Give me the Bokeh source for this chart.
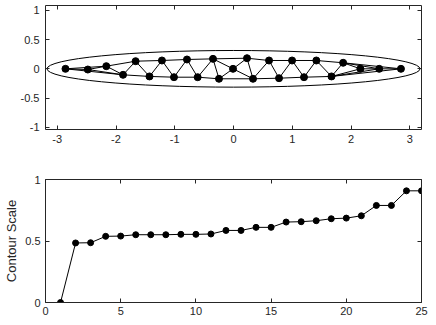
from bokeh.plotting import figure
from bokeh.layouts import column
from bokeh.models import LinearAxis, FixedTicker, Range1d, ColumnDataSource
from bokeh.embed import file_html
from bokeh.resources import INLINE

# ---- data ----
node_x = [-2.86, -2.48, -2.165, -1.88, -1.666, -1.43, -1.218, -1.013, -0.792, -0.61,
          -0.349, -0.247, -0.008, 0.23, 0.332, 0.605, 0.775, 0.997, 1.2, 1.41,
          1.668, 1.866, 2.16, 2.48, 2.85]
node_y = [0.0, -0.012, 0.045, -0.102, 0.13, -0.13, 0.142, -0.143, 0.159, -0.143,
          0.17, -0.17, 0.0, 0.181, -0.17, 0.142, -0.16, 0.142, -0.143, 0.142,
          -0.13, 0.103, 0.0, 0.0, 0.0]
edges = [(1, 3), (3, 5), (5, 7), (7, 9), (9, 11), (11, 14), (14, 16), (16, 18), (18, 20), (20, 22), (22, 25),
         (1, 4), (4, 6), (6, 8), (8, 10), (10, 12), (12, 15), (15, 17), (17, 19), (19, 21), (21, 25),
         (3, 4), (4, 5), (5, 6), (6, 7), (7, 8), (8, 9), (9, 10), (10, 11), (11, 12), (11, 13), (12, 13),
         (13, 14), (13, 15), (14, 15), (15, 16), (16, 17), (17, 18), (18, 19), (19, 20), (20, 21), (21, 22),
         (1, 2), (2, 3), (2, 4),
         (22, 23), (21, 23), (23, 24), (22, 24), (21, 24), (24, 25)]
ellipse_center = (0.0, 0.0)
ellipse_width = 6.35
ellipse_height = 0.625

node_index = list(range(1, 26))
contour_scale = [0, 0.484, 0.486, 0.538, 0.54, 0.551, 0.551, 0.551, 0.554, 0.554, 0.557,
                 0.586, 0.586, 0.611, 0.611, 0.654, 0.657, 0.665, 0.681, 0.686, 0.705,
                 0.789, 0.789, 0.908, 0.908]

top_xticks = [-3, -2, -1, 0, 1, 2, 3]
top_yticks = [-1, -0.5, 0, 0.5, 1]
top_ylabels = {-1: "-1", -0.5: "-0.5", 0: "0", 0.5: "0.5", 1: "1"}
bot_xticks = [0, 5, 10, 15, 20, 25]
bot_yticks = [0, 0.5, 1]
bot_ylabels = {0: "0", 0.5: "0.5", 1: "1"}

AX = "#262626"
FONT = "Liberation Sans"
FS = "11px"


def style_axis(ax, ticks, labels=None, show=True):
    ax.ticker = FixedTicker(ticks=ticks)
    ax.axis_line_color = AX
    ax.major_tick_line_color = AX
    ax.major_tick_in = 4
    ax.major_tick_out = 0
    ax.minor_tick_line_color = None
    ax.major_label_text_font = FONT
    ax.major_label_text_font_size = FS
    ax.major_label_text_color = AX
    if labels:
        ax.major_label_overrides = labels
    if not show:
        ax.major_label_text_font_size = "1px"
        ax.major_label_text_color = None
        ax.major_label_standoff = 0
        ax.axis_label_standoff = 0


# ---- top plot ----
p1 = figure(width=436, height=155, output_backend="svg", toolbar_location=None,
            x_range=Range1d(-3.2, 3.2), y_range=Range1d(-1.035, 1.08),
            min_border_left=45, min_border_right=15, min_border_top=5, min_border_bottom=26)
p1.grid.visible = False
p1.outline_line_color = None
style_axis(p1.xaxis[0], top_xticks, {t: str(t) for t in top_xticks})
style_axis(p1.yaxis[0], top_yticks, top_ylabels)
p1.xaxis[0].major_label_standoff = 5
p1.yaxis[0].major_label_standoff = 6
ra = LinearAxis()
style_axis(ra, top_yticks, show=False)
p1.add_layout(ra, "right")
ta = LinearAxis()
style_axis(ta, top_xticks, show=False)
p1.add_layout(ta, "above")

p1.ellipse(x=[ellipse_center[0]], y=[ellipse_center[1]], width=ellipse_width, height=ellipse_height,
           fill_color=None, line_color="black", line_width=1)
xs = [[node_x[a - 1], node_x[b - 1]] for a, b in edges]
ys = [[node_y[a - 1], node_y[b - 1]] for a, b in edges]
p1.multi_line(xs=xs, ys=ys, line_color="black", line_width=1)
p1.scatter(x=node_x, y=node_y, size=7, fill_color="black", line_color="black")

# ---- bottom plot ----
p2 = figure(width=436, height=167, output_backend="svg", toolbar_location=None,
            x_range=Range1d(0, 25), y_range=Range1d(0, 1),
            min_border_left=40, min_border_right=8, min_border_top=24, min_border_bottom=20)
p2.grid.visible = False
p2.outline_line_color = None
style_axis(p2.xaxis[0], bot_xticks, {t: str(t) for t in bot_xticks})
style_axis(p2.yaxis[0], bot_yticks, bot_ylabels)
p2.xaxis[0].major_label_standoff = 4
p2.yaxis[0].major_label_standoff = 5
p2.yaxis[0].axis_label = "Contour Scale"
p2.yaxis[0].axis_label_text_font = FONT
p2.yaxis[0].axis_label_text_font_size = "13px"
p2.yaxis[0].axis_label_text_font_style = "normal"
p2.yaxis[0].axis_label_text_color = AX
p2.yaxis[0].axis_label_standoff = 3
ra2 = LinearAxis()
style_axis(ra2, bot_yticks, show=False)
p2.add_layout(ra2, "right")
ta2 = LinearAxis()
style_axis(ta2, bot_xticks, show=False)
p2.add_layout(ta2, "above")

src = ColumnDataSource(dict(x=node_index, y=contour_scale))
p2.line(x="x", y="y", source=src, line_color="black", line_width=1)
p2.scatter(x="x", y="y", source=src, size=6, fill_color="black", line_color="black")

layout = column(p1, p2, spacing=0)
open("out.html", "w").write(file_html(layout, INLINE))
